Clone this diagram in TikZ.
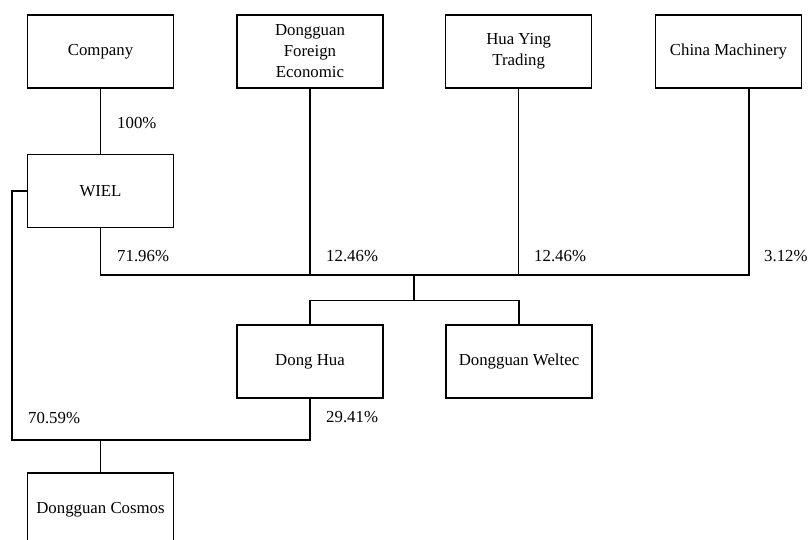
\documentclass[tikz,border=0pt]{standalone}
\usepackage{fontspec}
\setmainfont{Liberation Serif}
\tikzset{
	holder/.style={draw,line width=1.1pt,minimum width=146pt,minimum height=73pt,inner sep=0pt,align=center},
	share/.style={anchor=west,inner sep=0pt},
	link/.style={line width=1.1pt}
}

\begin{document}
\begin{tikzpicture}[x=1pt,y=-1pt,font=\fontsize{16.8}{21}\selectfont]
		\useasboundingbox (0,0) rectangle (808,540);
		\clip (0,0) rectangle (808,540);
		% owners
		\node[holder] (company) at (100.5,51.5) {Company};
		\node[holder] (foreign) at (310,51.5) {Dongguan\\Foreign\\Economic};
		\node[holder] (huaying) at (518.7,51.5) {Hua Ying\\Trading};
		\node[holder] (machinery) at (728.5,51.5) {China Machinery};
		\node[holder] (wiel) at (100.5,191) {WIEL};
		% subsidiaries
		\node[holder] (donghua) at (310,361.5) {Dong Hua};
		\node[holder] (weltec) at (519,361.5) {Dongguan Weltec};
		\node[holder] (cosmos) at (100.5,509.5) {Dongguan Cosmos};
		\coordinate (bar) at (414,275);
		\coordinate (hub) at (414,300.7);
		\coordinate (corner) at (12,440);
		\coordinate (machdrop) at ([xshift=20.5pt]machinery.south);
		\draw[link] (company) -- (wiel);
		\draw[link] (wiel.south) |- (machdrop |- bar) -- (machdrop);
		\draw[link] (foreign.south) -- (foreign.south |- bar);
		\draw[link] (huaying.south) -- (huaying.south |- bar);
		\draw[link] (bar) -- (hub);
		\draw[link] (donghua.north) |- (hub) -| (weltec.north);
		\draw[link] (wiel.west) -| (corner) -| (donghua.south);
		\draw[link] (cosmos.north) -- (cosmos.north |- corner);
		% percentages
		\node[share] (pcompany) at (117,123) {100\%};
		\node[share] (pwiel) at (117,256) {71.96\%};
		\node[share] (pforeign) at (326,256) {12.46\%};
		\node[share] (phuaying) at (534,256) {12.46\%};
		\node[share] (pmachinery) at (764,256) {3.12\%};
		\node[share] (pcosmos) at (28,418) {70.59\%};
		\node[share] (pdonghua) at (326,417) {29.41\%};
	\end{tikzpicture}
\end{document}
